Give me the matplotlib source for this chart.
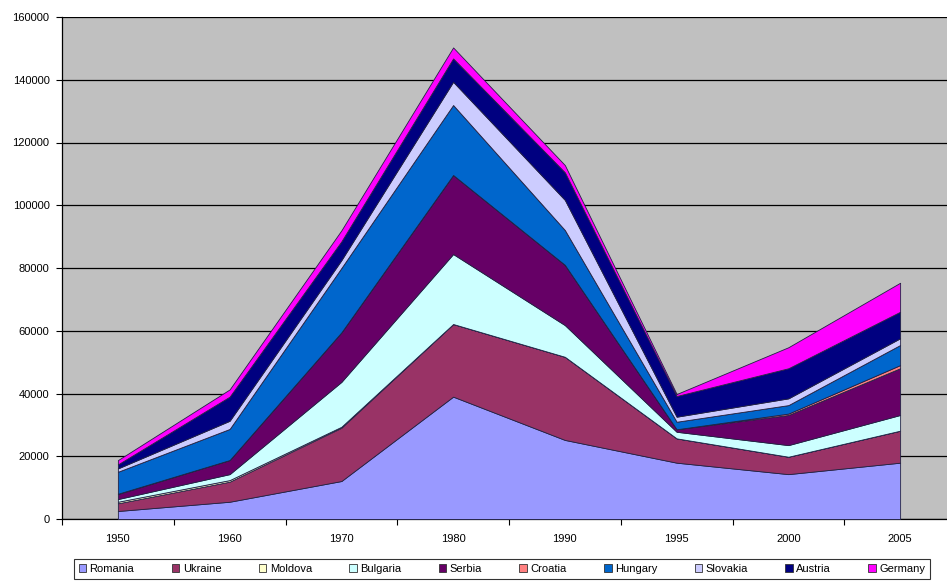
import matplotlib
matplotlib.use("Agg")
import matplotlib.pyplot as plt
import numpy as np
from matplotlib.patches import Patch
from matplotlib.ticker import FixedLocator, NullFormatter

years = ["1950", "1960", "1970", "1980", "1990", "1995", "2000", "2005"]
countries = ["Romania", "Ukraine", "Moldova", "Bulgaria", "Serbia",
             "Croatia", "Hungary", "Slovakia", "Austria", "Germany"]

romania  = [2550, 5500, 12100, 39000, 25200, 17950, 14300, 17950]
ukraine  = [2450, 6400, 17000, 23150, 26500, 7750, 5550, 10200]
moldova  = [500, 500, 300, 0, 0, 0, 0, 0]
bulgaria = [850, 1900, 14300, 22300, 10100, 2100, 3700, 5000]
serbia   = [1600, 4500, 15800, 25200, 19200, 800, 9600, 14900]
croatia  = [100, 0, 0, 0, 0, 0, 450, 1000]
hungary  = [7000, 9900, 20500, 22300, 11100, 2400, 2700, 6400]
slovakia = [1070, 2600, 2500, 7400, 9600, 1600, 2150, 2150]
austria  = [1280, 7700, 6000, 7450, 8800, 6600, 9600, 8450]
germany  = [1370, 2300, 3500, 3500, 2300, 640, 6700, 9250]

series = [romania, ukraine, moldova, bulgaria, serbia,
          croatia, hungary, slovakia, austria, germany]
colors = ["#9999FF", "#993366", "#FFFFCC", "#CCFFFF", "#660066",
          "#FF8080", "#0066CC", "#CCCCFF", "#000080", "#FF00FF"]

plt.rcParams['font.family'] = ['Liberation Sans', 'DejaVu Sans']

fig = plt.figure(figsize=(9.47, 5.81), dpi=100)
fig.patch.set_facecolor("white")
ax = fig.add_axes([62/947, 1 - 519/581, (956-62)/947, 502/581])
ax.set_facecolor("#C0C0C0")

x = np.arange(len(years))
ax.stackplot(x, *series, colors=colors, edgecolor="#222244",
             linewidth=0.6, zorder=3)

ax.set_xlim(-0.5, len(years) - 0.5)
ax.set_ylim(0, 160000)
ax.set_yticks(np.arange(0, 160001, 20000))
ax.yaxis.grid(True, color="black", linewidth=0.9, zorder=1)
ax.set_axisbelow(True)

ax.xaxis.set_major_locator(FixedLocator(np.arange(-0.5, len(years), 1.0)))
ax.xaxis.set_major_formatter(NullFormatter())
ax.xaxis.set_minor_locator(FixedLocator(x))
ax.set_xticklabels(years, minor=True)
ax.tick_params(axis="x", which="minor", length=0, labelsize=8, pad=11)
ax.tick_params(axis="x", which="major", length=4, direction="out", color="black")
ax.tick_params(axis="y", length=4, direction="out", labelsize=8, color="black", pad=5)

for s in ["top", "right"]:
    ax.spines[s].set_visible(False)
for s in ["left", "bottom"]:
    ax.spines[s].set_color("black")
    ax.spines[s].set_linewidth(0.9)

handles = [Patch(facecolor=c, edgecolor="#333333", linewidth=0.6, label=n)
           for c, n in zip(colors, countries)]
leg = fig.legend(handles=handles, loc="center", ncol=10,
                 bbox_to_anchor=(502/947, 1 - 569/581), fontsize=8,
                 frameon=True, fancybox=False, edgecolor="black",
                 handlelength=0.7, handleheight=0.7, handletextpad=0.3,
                 columnspacing=3.35, borderpad=0.45)
leg.get_frame().set_linewidth(0.8)

fig.savefig("out.png", dpi=100)
